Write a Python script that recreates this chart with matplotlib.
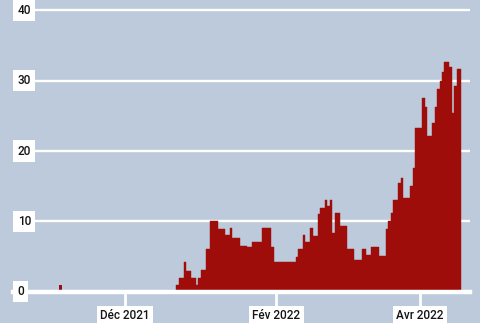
import numpy as np
import pandas as pd
import matplotlib
matplotlib.use('Agg')
import matplotlib.pyplot as plt
import matplotlib.transforms as mtransforms

# one isolated early value
early_day = ['2021-11-04']
early_values = [1.0]

# daily values from 22 Dec 2021
start_day = '2021-12-22'
values = [1, 2, 2, 4.2, 3, 3, 2, 2, 1, 2,
          3.1, 3.1, 6.1, 6.1, 10, 10, 10, 8.9, 8.9, 8.9,
          8.1, 8.1, 9.1, 7.7, 7.7, 7.7, 6.5, 6.5, 6.5, 6.4,
          6.4, 7.1, 7.1, 7.1, 7.1, 9, 9, 9, 9, 6.3,
          4.2, 4.2, 4.2, 4.2, 4.2, 4.2, 4.2, 4.2, 4.2,
          5, 6.1, 6.1, 8.1, 7, 7, 9.1, 7.9, 7.9, 11,
          11.9, 11.9, 13, 12.2, 13.1, 8.4, 11.2, 11.2, 9.4, 9.4,
          9.4, 6.1, 6.1, 6.1, 4.5, 4.5, 4.5, 6.1, 6.1, 5.2,
          5.2, 6.3, 6.3, 6.3, 5.1, 5.1, 5.1, 8.9, 10, 11.2,
          13.1, 13.1, 15.5, 16.2, 13.3, 13.3, 13.3, 15, 17.6, 23.3,
          23.3, 23.3, 27.5, 26.2, 22.1, 22.1, 24, 26.2, 28.8, 30,
          31.2, 32.7, 32.7, 31.9, 25.4, 29.2, 31.6, 31.6]

xtick_dates = ['2021-12-01', '2022-02-01', '2022-04-01']
xtick_labels = ['Déc 2021', 'Fév 2022', 'Avr 2022']
yticks = [0, 10, 20, 30, 40]

bg = '#bccadb'
red = '#9e0d09'

plt.rcParams['font.family'] = ['Roboto', 'DejaVu Sans']

days = pd.date_range(start_day, periods=len(values), freq='D')
early = pd.to_datetime(early_day)

fig = plt.figure(figsize=(4.8, 3.23), dpi=100, facecolor=bg)
ax = fig.add_axes([13 / 480, (323 - 291.7) / 323, 457 / 480, 288.7 / 323])
ax.set_facecolor(bg)

ax.bar(early, early_values, width=1.0, align='edge', color=red, lw=0, zorder=2)
ax.bar(days, values, width=1.0, align='edge', color=red, edgecolor=red, lw=0.3, zorder=2)

ax.set_xlim(pd.Timestamp('2021-10-16'), pd.Timestamp('2022-04-21 12:00'))
ax.set_ylim(0, 41.05)

for s in ax.spines.values():
    s.set_visible(False)

ax.set_yticks(yticks)
ax.grid(axis='y', color='white', lw=1.7)
ax.set_axisbelow(True)
ax.tick_params(axis='y', length=0, labelleft=False)
ax.axhline(0, color='white', lw=3.2, zorder=3, clip_on=False)

trans = mtransforms.blended_transform_factory(ax.transAxes, ax.transData)
for v in yticks:
    ax.text(0.01, v, str(v), transform=trans, ha='left', va='center',
            fontsize=8.5, fontweight='medium', color='#141414', zorder=4,
            bbox=dict(boxstyle='square,pad=0.35', facecolor='white', edgecolor='none'))

ax.set_xticks(pd.to_datetime(xtick_dates))
ax.set_xticklabels(xtick_labels, fontsize=8.5, fontweight='medium', color='#141414')
ax.tick_params(axis='x', length=10, width=2, color='white', pad=2.5)
for lbl in ax.get_xticklabels():
    lbl.set_bbox(dict(boxstyle='square,pad=0.3', facecolor='white', edgecolor='none'))

fig.savefig('out.png', dpi=100, facecolor=bg)
